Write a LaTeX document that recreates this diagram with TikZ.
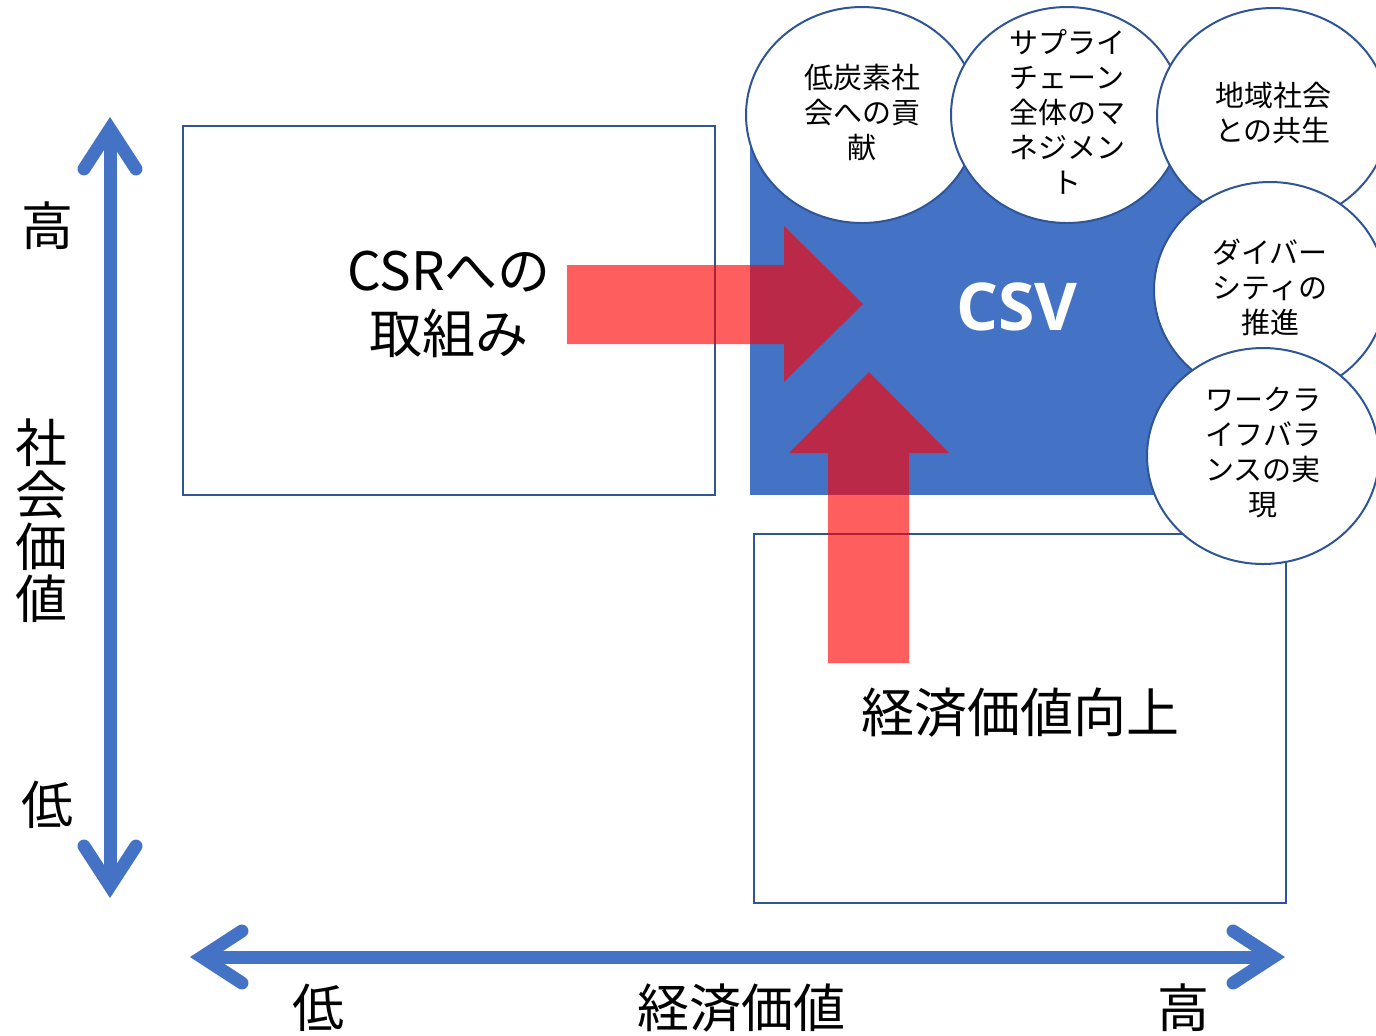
\documentclass[tikz,border=0pt]{standalone}
\usepackage{fontspec}
\setmainfont{Noto Sans CJK JP}
\newfontfamily\csvfont{Open Sans}
\usepackage{xcolor}
\usetikzlibrary{arrows.meta,shapes.geometric}
\definecolor{axisblue}{HTML}{4472C4}
\definecolor{lineblue}{HTML}{2F5597}
\tikzset{
  axistip/.tip={Straight Barb[length=20pt,width=26pt,line cap=round]},
  box/.style={draw=lineblue,line width=1pt,minimum width=266pt,minimum height=184.5pt,inner sep=0pt},
  boxtext/.style={align=center,yshift=3.2pt,font=\fontsize{26.5}{31.5}\selectfont},
  bubble/.style={ellipse,draw=lineblue,line width=1pt,fill=white,
    minimum width=116pt,minimum height=108pt,inner sep=0pt},
  bubbletext/.style={align=center,yshift=1.5pt,font=\fontsize{14.5}{17.5}\selectfont},
  redarrow/.style={fill=red,fill opacity=0.63},
  axis/.style={axisblue,line width=6.5pt,axistip-axistip},
  axislabel/.style={align=center,inner sep=0pt,font=\fontsize{26}{26}\selectfont}
}
\begin{document}
\begin{tikzpicture}[x=0.5pt,y=-0.5pt]
\useasboundingbox (0,0) rectangle (1376,1035);
% the three areas
\node[box,label={[boxtext]center:{CSRへの\\取組み}}] (csr) at (449,310.5) {};
\node[fill=axisblue,minimum width=267.5pt,minimum height=184.5pt,inner sep=0pt,
  label={[text=white,yshift=2pt,font=\csvfont\bfseries\fontsize{33}{33}\selectfont]center:CSV}] (csv) at (1017,310.5) {};
\node[box,label={[boxtext]center:{経済価値向上}}] (econ) at (1020,718.5) {};
% red arrows
\fill[redarrow] (567,265) -- (784,265) -- (784,226) -- (863,304) -- (784,382) -- (784,344) -- (567,344) -- cycle;
\fill[redarrow] (828,663) -- (828,453) -- (789,453) -- (869,372) -- (949,453) -- (909,453) -- (909,663) -- cycle;
% bubbles
\node[bubble,label={[bubbletext]center:{低炭素社\\会への貢\\献}}] (c1) at (862,115) {};
\node[bubble,label={[bubbletext]center:{サプライ\\チェーン\\全体のマ\\ネジメン\\ト}}] (c2) at (1067,115) {};
\node[bubble,label={[bubbletext]center:{地域社会\\との共生}}] (c3) at (1273,116) {};
\node[bubble,label={[bubbletext]center:{ダイバー\\シティの\\推進}}] (c4) at (1270,290) {};
\node[bubble,label={[bubbletext]center:{ワークラ\\イフバラ\\ンスの実\\現}}] (c5) at (1263,456) {};
% axes
\coordinate (ytop) at (110,117);
\coordinate (ybot) at (110,898);
\coordinate (xleft) at (190,957);
\coordinate (xright) at (1285,957);
\draw[axis] (ybot) -- (ytop);
\draw[axis] (xleft) -- (xright);
\node[axislabel] (yhigh) at (47,226) {高};
\node[axislabel] (yname) at (42,521) {社\\会\\価\\値};
\node[axislabel] (ylow) at (47,805) {低};
\node[axislabel] (xlow) at (318,1008) {低};
\node[axislabel] (xname) at (741,1008) {経済価値};
\node[axislabel] (xhigh) at (1183,1008) {高};
\end{tikzpicture}
\end{document}
